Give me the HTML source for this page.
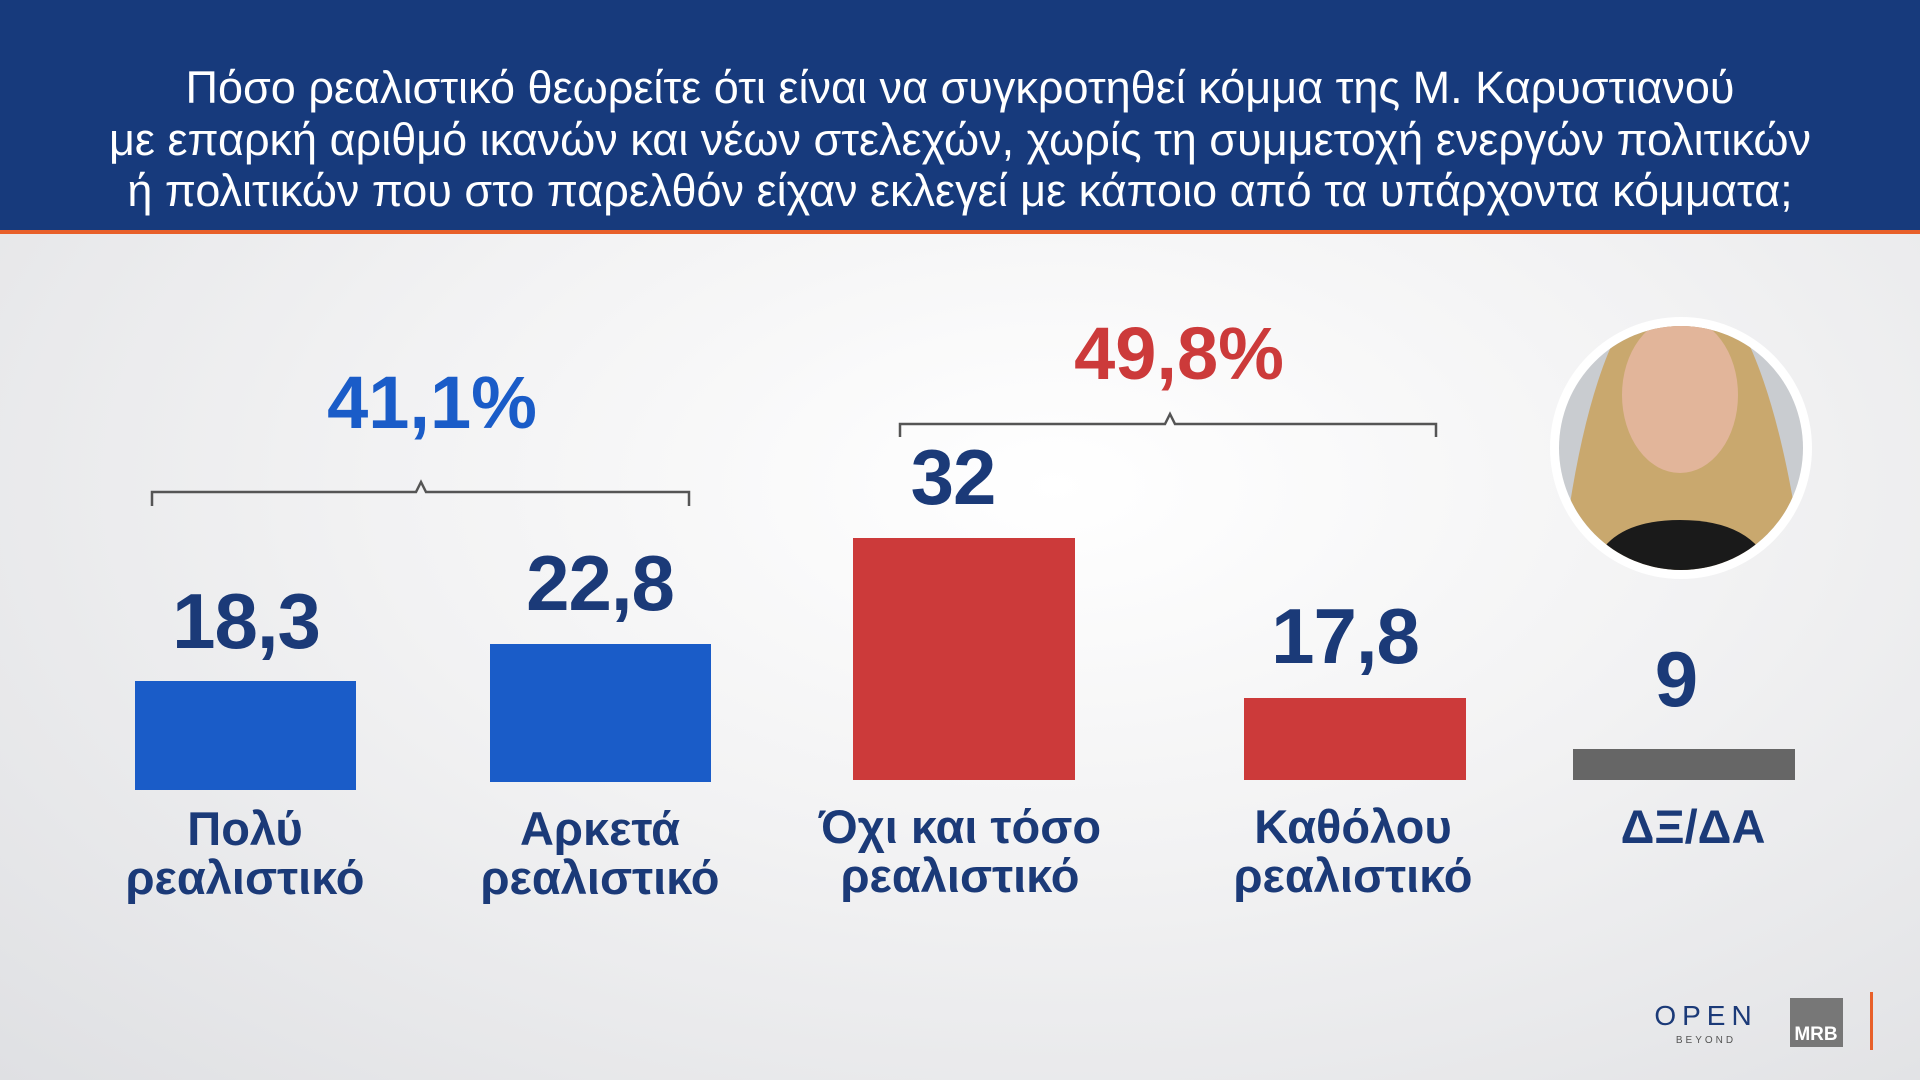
<!DOCTYPE html>
<html><head><meta charset="utf-8"><style>
*{margin:0;padding:0;box-sizing:border-box}
body{width:1920px;height:1080px;overflow:hidden;position:relative;font-family:"Liberation Sans","DejaVu Sans",sans-serif;
background:radial-gradient(ellipse at 55% 45%,#ffffff 0%,#f2f2f3 45%,#dfe0e3 100%)}
.hdr{position:absolute;left:0;top:0;width:1920px;height:230px;background:#173a7c}
.or{position:absolute;left:0;top:230px;width:1920px;height:4px;background:#e8602a}
.t{position:absolute;left:0;width:1920px;text-align:center;color:#fff;font-size:45px;line-height:52px;white-space:nowrap}
.bar{position:absolute}
.v{position:absolute;width:300px;text-align:center;color:#1b3a78;font-weight:bold;font-size:78px;letter-spacing:-1px}
.l{position:absolute;width:340px;text-align:center;color:#1b3a78;font-weight:bold;font-size:47px;line-height:49px}
.pct{position:absolute;width:400px;text-align:center;font-weight:bold;font-size:74px}
</style></head><body>
<div class="hdr"></div><div class="or"></div>
<div class="t" style="top:62px">Πόσο ρεαλιστικό θεωρείτε ότι είναι να συγκροτηθεί κόμμα της Μ. Καρυστιανού</div>
<div class="t" style="top:114px">με επαρκή αριθμό ικανών και νέων στελεχών, χωρίς τη συμμετοχή ενεργών πολιτικών</div>
<div class="t" style="top:165px">ή πολιτικών που στο παρελθόν είχαν εκλεγεί με κάποιο από τα υπάρχοντα κόμματα;</div>

<svg style="position:absolute;left:0;top:0" width="1920" height="1080">
<path d="M152 506 V492 H416 L421 482 L426 492 H689 V506" fill="none" stroke="#555" stroke-width="2.5"/>
<path d="M900 437 V424 H1165 L1170 414 L1175 424 H1436 V437" fill="none" stroke="#555" stroke-width="2.5"/>
<circle cx="1681" cy="448" r="131" fill="#fff"/>
<circle cx="1681" cy="448" r="122" fill="#c9ccd0"/>
<clipPath id="c"><circle cx="1681" cy="448" r="122"/></clipPath>
<g clip-path="url(#c)">
<path d="M1560 580 Q1590 300 1680 265 Q1770 300 1805 580 Z" fill="#c9a86e"/>
<ellipse cx="1680" cy="395" rx="58" ry="78" fill="#e2b59a"/>
<path d="M1590 580 Q1600 520 1680 520 Q1760 520 1775 580 Z" fill="#1a1a1a"/>
</g>
<text x="1706" y="1025" text-anchor="middle" font-family="Liberation Sans" font-size="28" fill="#1b3a78" letter-spacing="6">OPEN</text>
<text x="1706" y="1043" text-anchor="middle" font-family="Liberation Sans" font-size="10" fill="#555" letter-spacing="3">BEYOND</text>
<rect x="1790" y="998" width="53" height="49" fill="#777"/>
<text x="1816" y="1040" text-anchor="middle" font-family="Liberation Sans" font-weight="bold" font-size="19" fill="#fff">MRB</text>
<rect x="1870" y="992" width="3" height="58" fill="#e8602a"/>
</svg>

<div class="pct" style="left:232px;top:360px;color:#1a5cc8">41,1%</div>
<div class="pct" style="left:979px;top:311px;color:#cc3a3a">49,8%</div>

<div class="bar" style="left:135px;top:681px;width:221px;height:109px;background:#1a5cc8"></div>
<div class="bar" style="left:490px;top:644px;width:221px;height:138px;background:#1a5cc8"></div>
<div class="bar" style="left:853px;top:538px;width:222px;height:242px;background:#cc3a3a"></div>
<div class="bar" style="left:1244px;top:698px;width:222px;height:82px;background:#cc3a3a"></div>
<div class="bar" style="left:1573px;top:749px;width:222px;height:31px;background:#666"></div>

<div class="v" style="left:96px;top:576px">18,3</div>
<div class="v" style="left:450px;top:538px">22,8</div>
<div class="v" style="left:803px;top:432px">32</div>
<div class="v" style="left:1195px;top:591px">17,8</div>
<div class="v" style="left:1526px;top:634px">9</div>

<div class="l" style="left:75px;top:804px">Πολύ<br>ρεαλιστικό</div>
<div class="l" style="left:430px;top:804px">Αρκετά<br>ρεαλιστικό</div>
<div class="l" style="left:790px;top:802px">Όχι και τόσο<br>ρεαλιστικό</div>
<div class="l" style="left:1183px;top:802px">Καθόλου<br>ρεαλιστικό</div>
<div class="l" style="left:1523px;top:802px">ΔΞ/ΔΑ</div>
</body></html>
